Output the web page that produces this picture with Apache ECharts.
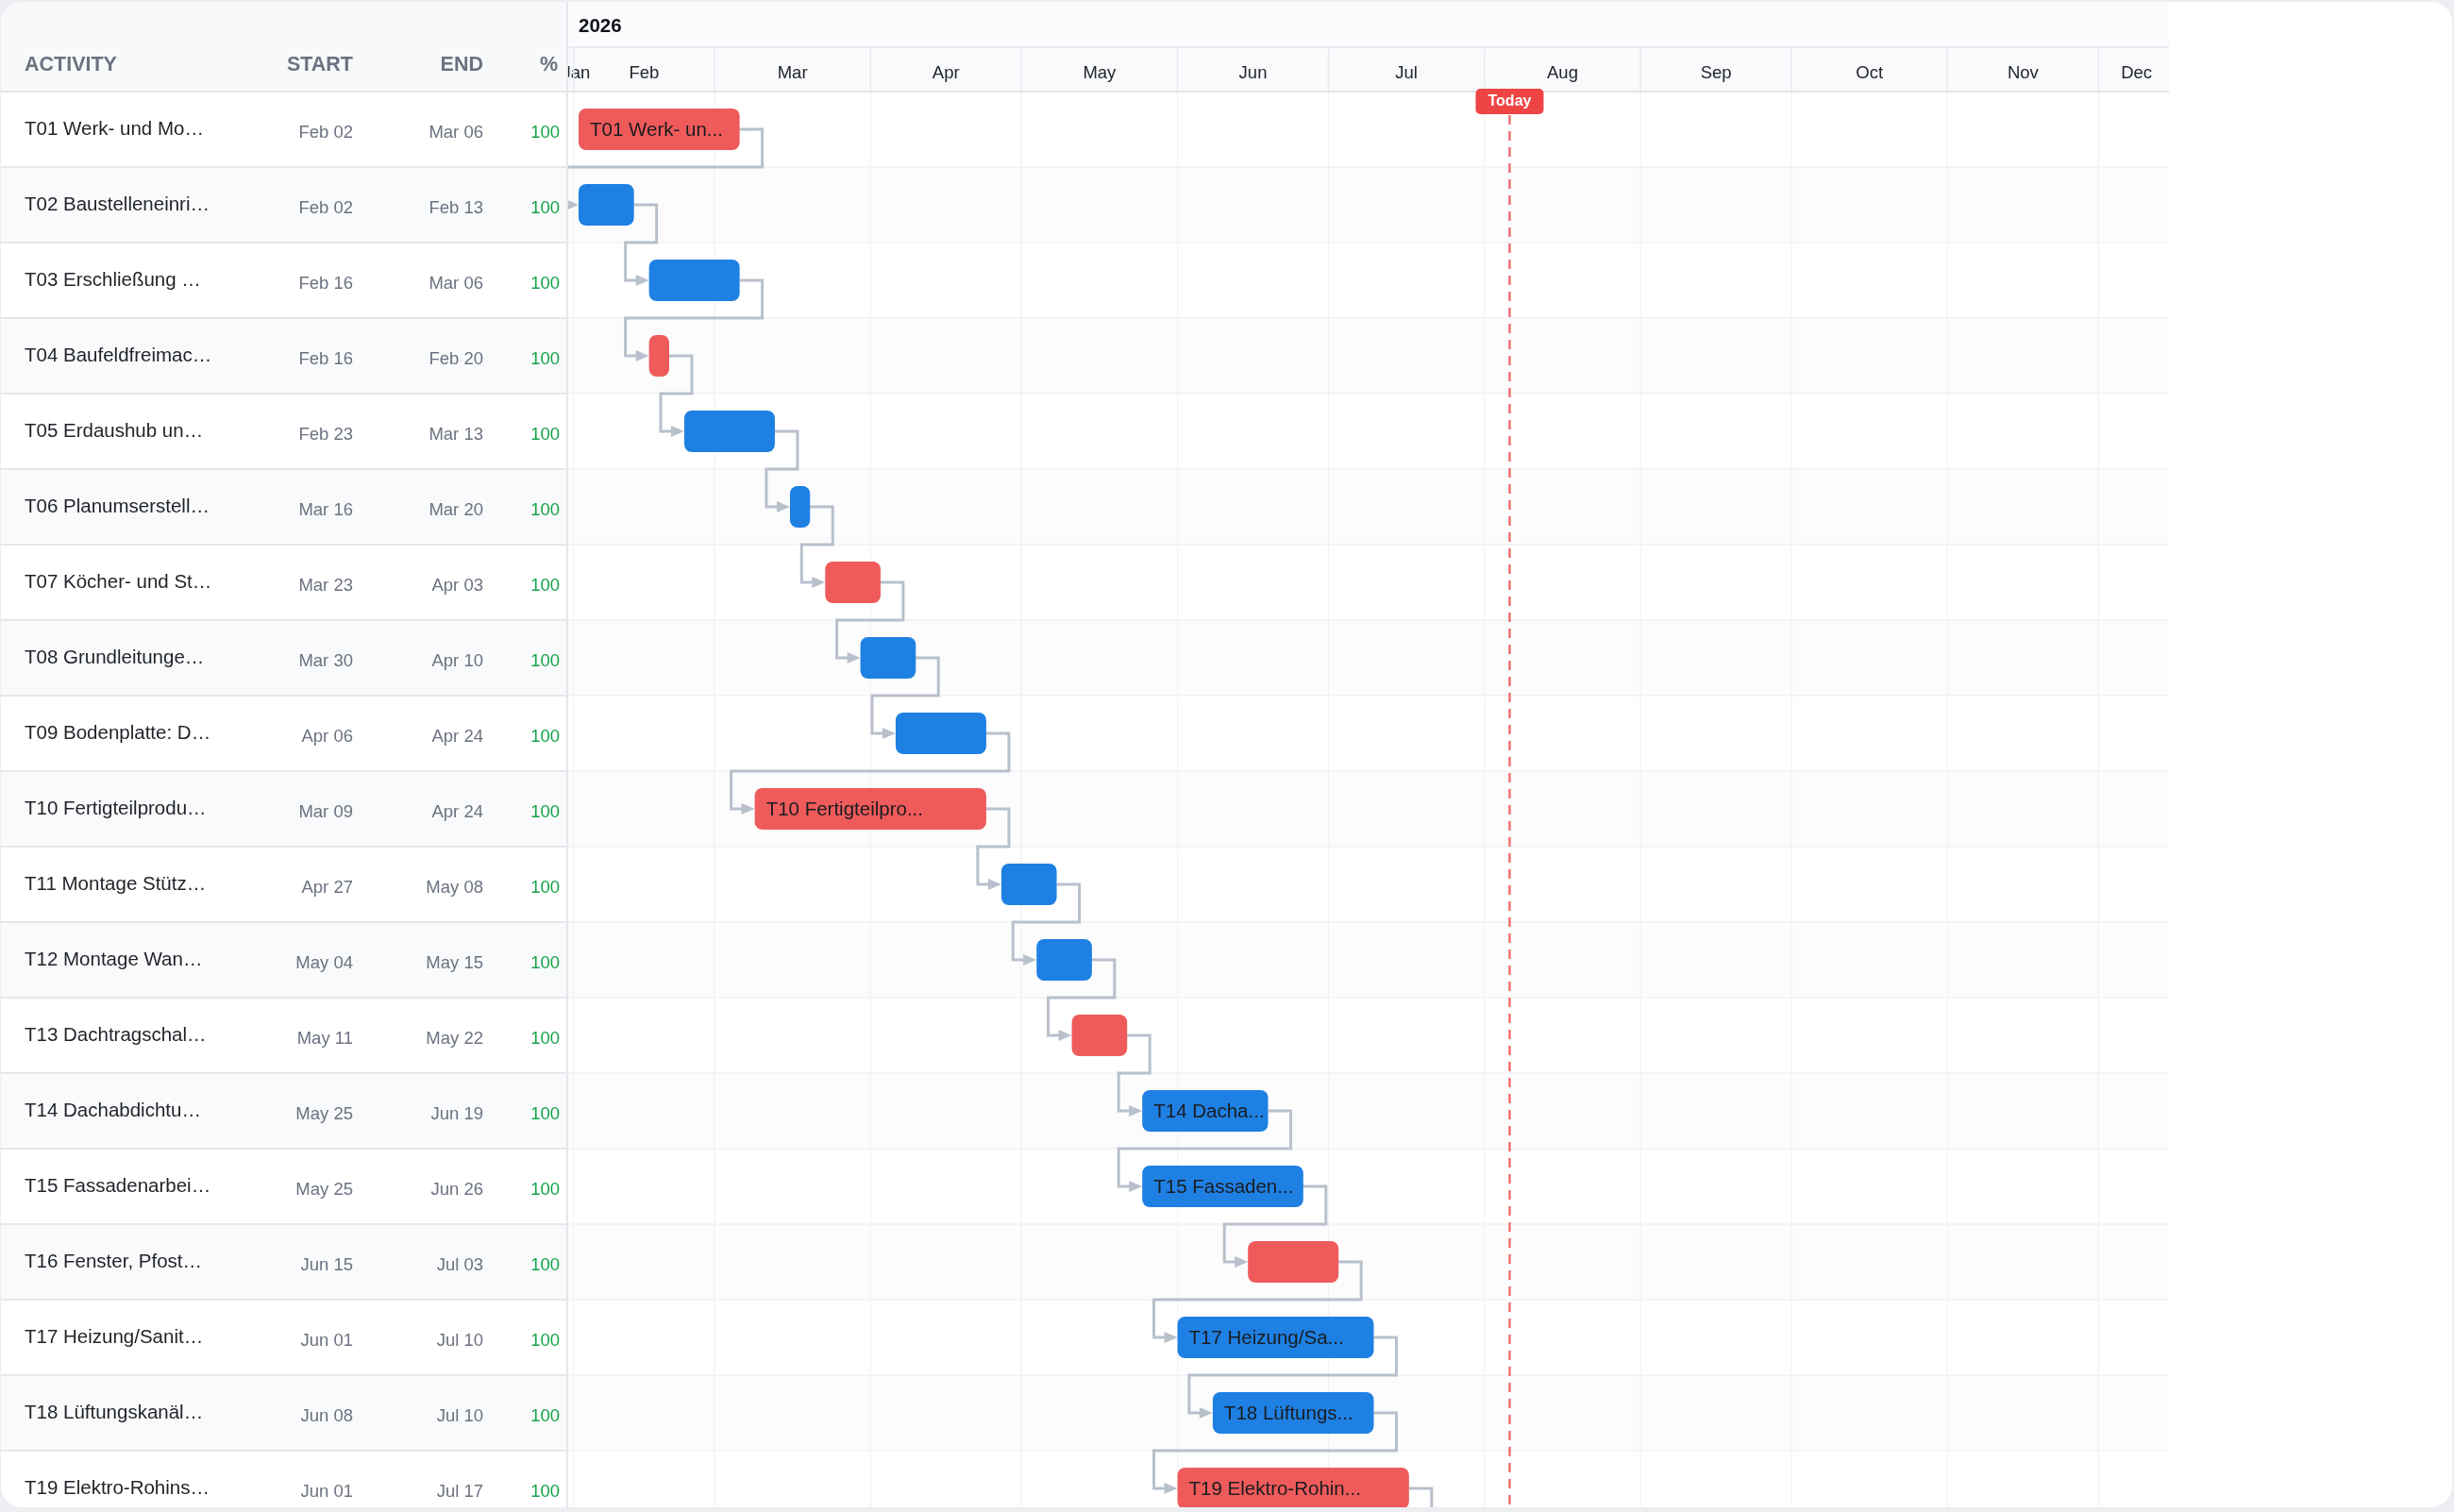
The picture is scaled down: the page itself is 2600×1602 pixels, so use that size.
<!DOCTYPE html>
<html>
<head>
<meta charset="utf-8">
<script src="https://cdn.jsdelivr.net/npm/echarts@6/dist/echarts.min.js"></script>
<style>
html,body{margin:0;padding:0;background:#eceef1;width:2600px;height:1602px;overflow:hidden;}
#card{position:absolute;left:1px;top:2px;width:2597px;height:1595px;background:#ffffff;border-radius:22px;overflow:hidden;}
#chart{position:absolute;left:-1px;top:-2px;width:2600px;height:1602px;}
</style>
</head>
<body>
<div id="card"><div id="chart"></div></div>
<script>
// ---------------- DATA ----------------
const yearLabel = '2026';
const taskNames = [
  'T01 Werk- und Mo', 'T02 Baustelleneinri', 'T03 Erschließung ', 'T04 Baufeldfreimac',
  'T05 Erdaushub un', 'T06 Planumserstell', 'T07 Köcher- und St', 'T08 Grundleitunge',
  'T09 Bodenplatte: D', 'T10 Fertigteilprodu', 'T11 Montage Stütz', 'T12 Montage Wan',
  'T13 Dachtragschal', 'T14 Dachabdichtu', 'T15 Fassadenarbei', 'T16 Fenster, Pfost',
  'T17 Heizung/Sanit', 'T18 Lüftungskanäl', 'T19 Elektro-Rohins'
];
const startDates = [
  '2026-02-02', '2026-02-02', '2026-02-16', '2026-02-16', '2026-02-23', '2026-03-16',
  '2026-03-23', '2026-03-30', '2026-04-06', '2026-03-09', '2026-04-27', '2026-05-04',
  '2026-05-11', '2026-05-25', '2026-05-25', '2026-06-15', '2026-06-01', '2026-06-08',
  '2026-06-01'
];
const endDates = [
  '2026-03-06', '2026-02-13', '2026-03-06', '2026-02-20', '2026-03-13', '2026-03-20',
  '2026-04-03', '2026-04-10', '2026-04-24', '2026-04-24', '2026-05-08', '2026-05-15',
  '2026-05-22', '2026-06-19', '2026-06-26', '2026-07-03', '2026-07-10', '2026-07-10',
  '2026-07-17'
];
const progress = [100,100,100,100,100,100,100,100,100,100,100,100,100,100,100,100,100,100,100];
const critical = [true,false,false,true,false,false,true,false,false,true,false,false,true,false,false,true,false,false,true];
// dependency links [from, to]; -1 = successor below the visible rows
const links = [[0,1],[1,2],[2,3],[3,4],[4,5],[5,6],[6,7],[7,8],[8,9],[9,10],[10,11],[11,12],
               [12,13],[13,14],[14,15],[15,16],[16,17],[17,18],[18,-1]];
const monthNames = ['Jan','Feb','Mar','Apr','May','Jun','Jul','Aug','Sep','Oct','Nov','Dec'];
const tableHeaders = ['ACTIVITY', 'START', 'END', '%'];
const todayDate = '2026-08-06';
const todayLabel = 'Today';
const viewStart = '2026-01-30T18:00:00Z';
const viewEnd = '2026-12-15T00:00:00Z';

// ---------------- HELPERS ----------------
const FONT = '"Liberation Sans", Arial, Helvetica, sans-serif';
const ts = s => Date.parse(s + 'T00:00:00Z');
const fmtDate = s => { const d = new Date(ts(s)); return monthNames[d.getUTCMonth()] + ' ' + String(d.getUTCDate()).padStart(2, '0'); };
const yearNum = parseInt(yearLabel, 10);
const RED = '#ef5b5b', BLUE = '#1f80e3', LINK = '#b8c0cc';
const TABLE_W = 601;

// ---------------- RENDERERS ----------------
function renderHeader(params, api) {
  const i = api.value(2);
  const cs = params.coordSys;
  const left = cs.x, right = cs.x + cs.width, bottom = cs.y + cs.height;
  const x0 = api.coord([api.value(0), 0])[0];
  const x1 = api.coord([Date.UTC(yearNum, i + 1, 1), 0])[0];
  const a = Math.max(x0, left), b = Math.min(x1, right);
  const children = [];
  if (i === 0) {
    children.push({type: 'text', style: {text: yearLabel, x: left + 12, y: 28, align: 'left', verticalAlign: 'middle',
      fill: '#111418', fontSize: 20.5, fontWeight: 'bold', fontFamily: FONT}});
  }
  if (x0 > left + 1 && x0 < right) {
    children.push({type: 'line', shape: {x1: x0, y1: 50, x2: x0, y2: 97}, style: {stroke: '#e6e9ed', lineWidth: 1.5}});
    children.push({type: 'line', shape: {x1: x0, y1: 97, x2: x0, y2: bottom}, style: {stroke: '#eff1f4', lineWidth: 1.2}});
  }
  if (b > a) {
    // clipped edge months: label centred on the visible part, nudged inward like the original
    let cx = (a + b) / 2;
    if (x0 < left) cx += 6;
    if (x1 > right) cx += 3;
    children.push({type: 'text', style: {text: monthNames[i], x: cx, y: 77.5, align: 'center', verticalAlign: 'middle',
      fill: '#22262b', fontSize: 18.5, fontFamily: FONT}});
  }
  return {type: 'group', children};
}

function renderTable(params, api) {
  const i = api.value(1);
  const yc = api.coord([api.value(0), i])[1];
  const band = api.size([0, 1])[1];
  const top = yc - band / 2;
  const children = [];
  if (i % 2 === 1) {
    children.push({type: 'rect', z2: 0, shape: {x: 0, y: top, width: TABLE_W, height: band}, style: {fill: '#f9fafb'}});
  }
  children.push({type: 'line', z2: 10, shape: {x1: 0, y1: top + band, x2: TABLE_W, y2: top + band}, style: {stroke: '#e5e7eb', lineWidth: 2}});
  children.push({type: 'text', z2: 11, style: {text: taskNames[i] + '…', x: 26, y: yc, align: 'left', verticalAlign: 'middle',
    fill: '#1f2328', fontSize: 20.5, fontFamily: FONT}});
  children.push({type: 'text', z2: 11, style: {text: fmtDate(startDates[i]), x: 374, y: yc + 4, align: 'right', verticalAlign: 'middle',
    fill: '#6b7280', fontSize: 18.5, fontFamily: FONT}});
  children.push({type: 'text', z2: 11, style: {text: fmtDate(endDates[i]), x: 512, y: yc + 4, align: 'right', verticalAlign: 'middle',
    fill: '#6b7280', fontSize: 18.5, fontFamily: FONT}});
  children.push({type: 'text', z2: 11, style: {text: String(progress[i]), x: 593, y: yc + 4, align: 'right', verticalAlign: 'middle',
    fill: '#16a34a', fontSize: 18.5, fontFamily: FONT}});
  return {type: 'group', children};
}

function renderBar(params, api) {
  const i = api.value(1);
  const p0 = api.coord([api.value(0), i]);
  const p1 = api.coord([api.value(2), i]);
  const band = api.size([0, 1])[1];
  const h = band * 0.55;
  const w = p1[0] - p0[0];
  const children = [{type: 'rect', shape: {x: p0[0], y: p0[1] - h / 2, width: w, height: h, r: 8},
    style: {fill: critical[i] ? RED : BLUE}}];
  if (w >= 120) {
    const n = Math.floor(w / 14);
    children.push({type: 'text', style: {text: taskNames[i].slice(0, n) + '...', x: p0[0] + 12, y: p0[1] + 1,
      align: 'left', verticalAlign: 'middle', fill: '#1a1c1f', fontSize: 20.5, fontFamily: FONT}});
  }
  return {type: 'group', children};
}

function renderLink(params, api) {
  const a = api.value(1), b = api.value(3);
  const band = api.size([0, 1])[1];
  const e = api.coord([api.value(0), a]);
  const ex = e[0], ey = e[1], midY = ey + band / 2;
  const pts = [[ex, ey], [ex + 24, ey], [ex + 24, midY]];
  const children = [];
  if (b >= 0) {
    const s = api.coord([api.value(2), b]);
    const sx = s[0], sy = s[1];
    pts.push([sx - 25, midY], [sx - 25, sy], [sx - 13, sy]);
    children.push({type: 'polygon', shape: {points: [[sx - 14, sy - 6], [sx, sy], [sx - 14, sy + 6]]}, style: {fill: LINK}});
  }
  children.unshift({type: 'polyline', shape: {points: pts}, style: {stroke: LINK, lineWidth: 3, fill: null, lineJoin: 'miter'}});
  return {type: 'group', children};
}

function renderToday(params, api) {
  const x = api.coord([api.value(0), 0])[0];
  const cs = params.coordSys;
  return {type: 'group', children: [
    {type: 'line', shape: {x1: x, y1: 122, x2: x, y2: cs.y + cs.height},
      style: {stroke: '#f07171', lineWidth: 2.5, lineDash: [10, 7]}},
    {type: 'rect', shape: {x: x - 36, y: 94, width: 72, height: 27, r: 5}, style: {fill: '#ef4444'}},
    {type: 'text', style: {text: todayLabel, x: x, y: 108, align: 'center', verticalAlign: 'middle',
      fill: '#ffffff', fontSize: 16, fontWeight: 'bold', fontFamily: FONT}}
  ]};
}

// ---------------- CHART ----------------
const chart = echarts.init(document.getElementById('chart'), null, {renderer: 'canvas'});
const taskIdx = taskNames.map((n, i) => i);
const headerFont = {fill: '#6b7280', fontSize: 21.5, fontWeight: 'bold', fontFamily: FONT};

chart.setOption({
  animation: false,
  textStyle: {fontFamily: FONT},
  grid: {left: 601, top: 97, width: 1697, height: 1520, containLabel: false, outerBoundsMode: 'none'},
  xAxis: {type: 'value', min: Date.parse(viewStart), max: Date.parse(viewEnd), scale: true, show: false,
          splitLine: {show: false}},
  yAxis: {
    type: 'category', data: taskNames, inverse: true,
    axisLine: {show: false}, axisTick: {show: false}, axisLabel: {show: false},
    splitLine: {show: true, interval: 0, lineStyle: {color: '#f0f2f5', width: 1.5}},
    splitArea: {show: true, interval: 0, areaStyle: {color: ['rgba(255,255,255,0)', '#fcfcfd']}}
  },
  graphic: [
    {type: 'rect', z: 1, shape: {x: 601, y: 0, width: 1697, height: 50}, style: {fill: '#fafbfc'}},
    {type: 'rect', z: 1, shape: {x: 601, y: 50, width: 1697, height: 47}, style: {fill: '#f8fafc'}},
    {type: 'rect', z: 10, shape: {x: 0, y: 0, width: 601, height: 97}, style: {fill: '#f8f9fa'}},
    {type: 'line', z: 12, shape: {x1: 601, y1: 50, x2: 2298, y2: 50}, style: {stroke: '#e8ebef', lineWidth: 2}},
    {type: 'line', z: 12, shape: {x1: 0, y1: 97, x2: 2298, y2: 97}, style: {stroke: '#e2e5e9', lineWidth: 2}},
    {type: 'line', z: 12, shape: {x1: 601, y1: 0, x2: 601, y2: 1602}, style: {stroke: '#e5e7eb', lineWidth: 2}},
    {type: 'text', z: 13, style: Object.assign({text: tableHeaders[0], x: 26, y: 69.5, align: 'left', verticalAlign: 'middle'}, headerFont)},
    {type: 'text', z: 13, style: Object.assign({text: tableHeaders[1], x: 374, y: 69.5, align: 'right', verticalAlign: 'middle'}, headerFont)},
    {type: 'text', z: 13, style: Object.assign({text: tableHeaders[2], x: 512, y: 69.5, align: 'right', verticalAlign: 'middle'}, headerFont)},
    {type: 'text', z: 13, style: Object.assign({text: tableHeaders[3], x: 591, y: 69.5, align: 'right', verticalAlign: 'middle'}, headerFont)}
  ],
  series: [
    {type: 'custom', name: 'header', z: 5, clip: false, silent: true,
     data: monthNames.map((m, i) => [Date.UTC(yearNum, i, 1), 0, i]), renderItem: renderHeader},
    {type: 'custom', name: 'table', z: 5, clip: false, silent: true,
     data: taskIdx.map(i => [ts(startDates[i]), i]), renderItem: renderTable},
    {type: 'custom', name: 'links', z: 6, clip: true, silent: true,
     data: links.map(([a, b]) => [ts(endDates[a]), a, b >= 0 ? ts(startDates[b]) : ts(endDates[a]), b]),
     encode: {x: [0, 2], y: 1}, renderItem: renderLink},
    {type: 'custom', name: 'tasks', z: 7, clip: true,
     data: taskIdx.map(i => [ts(startDates[i]), i, ts(endDates[i])]),
     encode: {x: [0, 2], y: 1}, renderItem: renderBar},
    {type: 'custom', name: 'today', z: 15, clip: false, silent: true,
     data: [[ts(todayDate), 0]], renderItem: renderToday}
  ]
});
</script>
</body>
</html>
